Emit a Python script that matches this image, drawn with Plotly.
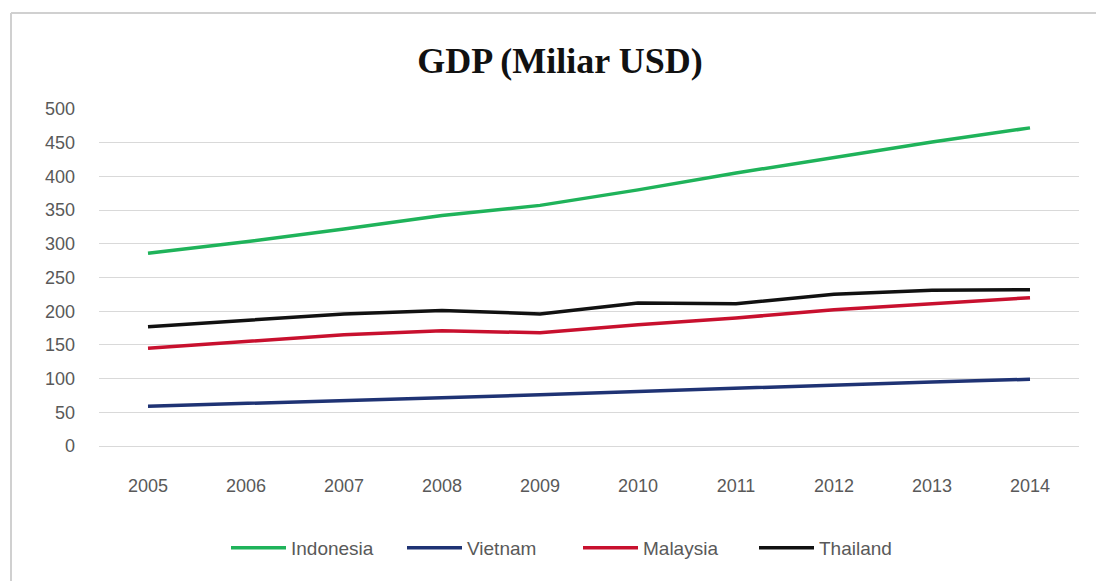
import plotly.graph_objects as go

years = ["2005", "2006", "2007", "2008", "2009", "2010", "2011", "2012", "2013", "2014"]
indonesia = [286, 303, 322, 342, 357, 380, 405, 428, 451, 472]
vietnam = [59, 63, 67, 72, 76, 81, 86, 91, 95, 99]
malaysia = [145, 155, 165, 171, 168, 180, 190, 202, 211, 220]
thailand = [177, 187, 196, 201, 196, 212, 211, 225, 231, 232]
y_ticks = [0, 50, 100, 150, 200, 250, 300, 350, 400, 450, 500]

series = [
    ("Indonesia", indonesia, "#1fb35a"),
    ("Vietnam", vietnam, "#1f3374"),
    ("Malaysia", malaysia, "#c8102e"),
    ("Thailand", thailand, "#111111"),
]

fig = go.Figure()
for name, vals, col in series:
    fig.add_trace(go.Scatter(x=years, y=vals, name=name, mode="lines",
                             line=dict(color=col, width=3.5)))

W, H = 1096, 581
L, R, T, B = 99, 17, 109, 135
pw, ph = W - L - R, H - T - B

def px(x):
    return (x - L) / pw

def py(y):
    return (H - B - y) / ph

tick_font = dict(family="Liberation Sans, Arial, sans-serif", size=18, color="#595959")
legend_font = dict(family="Liberation Sans, Arial, sans-serif", size=19, color="#595959")

fig.update_layout(
    width=W, height=H,
    margin=dict(l=L, r=R, t=T, b=B),
    paper_bgcolor="white", plot_bgcolor="white",
    title=dict(text="<b>GDP (Miliar USD)</b>", x=560 / W, xanchor="center",
               y=1 - 60 / H, yanchor="middle",
               font=dict(family="Liberation Serif, Times New Roman, serif", size=36, color="#111111")),
    xaxis=dict(type="category", range=[-0.5, len(years) - 0.5], showgrid=False,
               showline=False, zeroline=False, ticks="",
               tickfont=tick_font, ticklabelstandoff=27),
    yaxis=dict(range=[0, 500], tickvals=y_ticks, showgrid=True, gridcolor="#d9d9d9",
               gridwidth=1, zeroline=True, zerolinecolor="#d9d9d9", zerolinewidth=1,
               showline=False, ticks="",
               tickfont=tick_font, ticklabelstandoff=23),
    legend=dict(orientation="h", x=px(578), xanchor="center", y=py(548), yanchor="middle",
                font=legend_font, itemwidth=55, tracegroupgap=0, entrywidth=106),
    showlegend=True,
    shapes=[
        dict(type="line", xref="paper", yref="paper", x0=px(11), x1=px(1100),
             y0=py(13), y1=py(13), line=dict(color="#d0d0d0", width=2)),
        dict(type="line", xref="paper", yref="paper", x0=px(11), x1=px(11),
             y0=py(13), y1=py(585), line=dict(color="#d0d0d0", width=2)),
    ],
)

fig.write_html("out.html")
